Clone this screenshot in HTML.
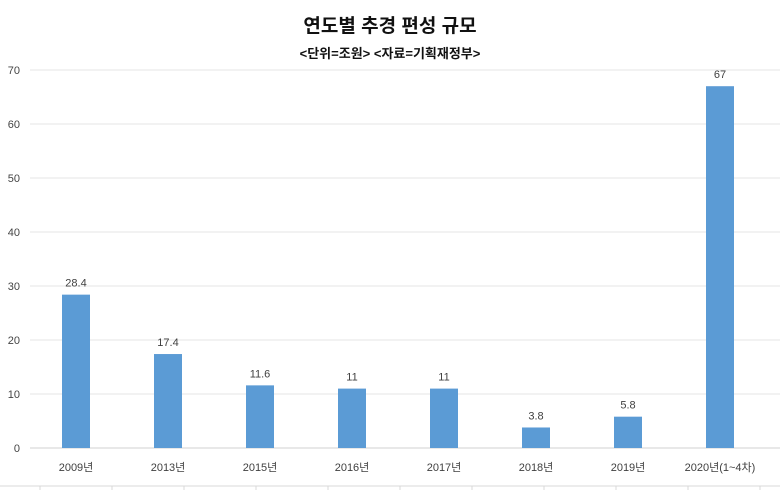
<!DOCTYPE html>
<html><head><meta charset="utf-8"><style>
body{margin:0;background:#fff}
svg{display:block;font-family:"Liberation Sans","Noto Sans CJK KR",sans-serif}
</style></head><body>
<svg id="c" width="780" height="490">
<text x="390" y="32" text-anchor="middle" font-size="19" font-weight="bold" fill="#111">연도별 추경 편성 규모</text>
<text x="390" y="58" text-anchor="middle" font-size="13" font-weight="bold" fill="#111">&lt;단위=조원&gt;  &lt;자료=기획재정부&gt;</text>
<g id="grid"></g><g id="bars"></g>
<line x1="0" y1="486" x2="780" y2="486" stroke="#d9d9d9"/>
<g id="bt"></g>
</svg>
<script>
const categories=["2009년","2013년","2015년","2016년","2017년","2018년","2019년","2020년(1~4차)"];
const values=[28.4,17.4,11.6,11,11,3.8,5.8,67];
const valueLabels=["28.4","17.4","11.6","11","11","3.8","5.8","67"];
const yTicks=[0,10,20,30,40,50,60,70];
const NS="http://www.w3.org/2000/svg";
const x0=30,x1=780,yBase=448,yTop=70,yMax=70;
const y=v=>yBase-(v/yMax)*(yBase-yTop);
const band=92;
const xc=i=>x0+band*(i+0.5);
function mk(t,a,p){const e=document.createElementNS(NS,t);for(const k in a)e.setAttribute(k,a[k]);p.appendChild(e);return e;}
const g=document.getElementById('grid'),b=document.getElementById('bars'),bt=document.getElementById('bt');
yTicks.forEach(t=>{
 const l=mk('line',{x1:x0,x2:x1,y1:y(t),y2:y(t),stroke:t===0?'#d0d0d0':'#e4e4e4'},g);
 
 
 const tx=mk('text',{x:20,y:y(t)+4,'text-anchor':'end','font-size':'11',fill:'#444'},g);
 tx.textContent=t;
 
 
});
categories.forEach((c,i)=>{
 const r=mk('rect',{x:xc(i)-14,y:y(values[i]),width:28,height:yBase-y(values[i]),fill:'#5b9bd5'},b);
 
 
 const v=mk('text',{x:xc(i),y:y(values[i])-8,'text-anchor':'middle','font-size':'11',fill:'#404040'},b);
 v.textContent=valueLabels[i];
 
 
 const xl=mk('text',{x:xc(i),y:471,'text-anchor':'middle','font-size':'11',fill:'#404040'},b);
 xl.textContent=c;
 
 
});
for(let k=0;k<11;k++){
 const t=mk('line',{x1:40+k*72,x2:40+k*72,y1:486,y2:490,stroke:'#d9d9d9'},bt);
 
 
}
</script>
</body></html>
